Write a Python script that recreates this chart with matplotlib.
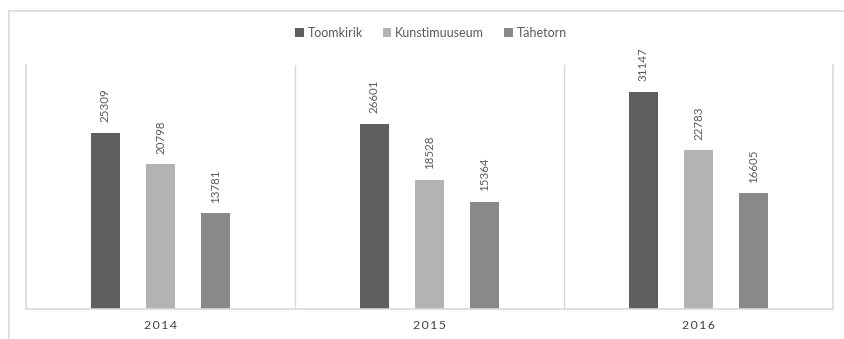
import matplotlib

matplotlib.use("Agg")

import matplotlib.pyplot as plt
import numpy as np

plt.rcParams["font.family"] = ["Lato", "DejaVu Sans"]

years = ["2014", "2015", "2016"]
series = ["Toomkirik", "Kunstimuuseum", "Tähetorn"]
toomkirik = [25309, 26601, 31147]
kunstimuuseum = [20798, 18528, 22783]
tahetorn = [13781, 15364, 16605]

colors = ["#5e5e5e", "#b3b3b3", "#898989"]
grid_grey = "#d9d9d9"

fig = plt.figure(figsize=(8.45, 3.39), dpi=100)
fig.patch.set_facecolor("white")

# light frame around the chart (top and left edges only)
fig.add_artist(plt.Line2D([9 / 845, 1], [1 - 11 / 339] * 2, color=grid_grey, lw=1.2))
fig.add_artist(plt.Line2D([9 / 845] * 2, [0, 1 - 11 / 339], color=grid_grey, lw=1.2))

ax = fig.add_axes((26 / 845, 30 / 339, 807 / 845, 244 / 339))
x = np.arange(len(years))
offsets = [-0.205, 0.0, 0.205]
width = 0.108

for vals, name, col, off in zip([toomkirik, kunstimuuseum, tahetorn], series, colors, offsets):
    bars = ax.bar(x + off, vals, width, color=col, label=name)
    for b, v in zip(bars, vals):
        ax.annotate(str(v), (b.get_x() + b.get_width() / 2, v), xytext=(0, 7.5),
                    textcoords="offset points", rotation=90, ha="center", va="bottom",
                    fontsize=8.3, color="#595959")

ax.set_xlim(-0.5, len(years) - 0.5)
ax.set_ylim(0, 35000)
ax.set_yticks([])
ax.set_xticks(x)
# spaced-out year labels
ax.set_xticklabels(["\u2009".join(y) for y in years], fontsize=8.8, color="#404040")
ax.tick_params(axis="x", length=0, pad=8)
for s in ["left", "right", "bottom"]:
    ax.spines[s].set_color(grid_grey)
    ax.spines[s].set_linewidth(1.2)
ax.spines["top"].set_visible(False)
for sep in x[:-1] + 0.5:
    ax.axvline(sep, color=grid_grey, lw=1)

handles, labels = ax.get_legend_handles_labels()
fig.legend(handles, labels, loc="center", bbox_to_anchor=(0.51, 1 - 33 / 339), ncol=3,
           frameon=False, fontsize=9, handlelength=0.7, handleheight=0.7,
           handletextpad=0.3, columnspacing=1.6, labelcolor="#595959")

fig.savefig("out.png", dpi=100)
